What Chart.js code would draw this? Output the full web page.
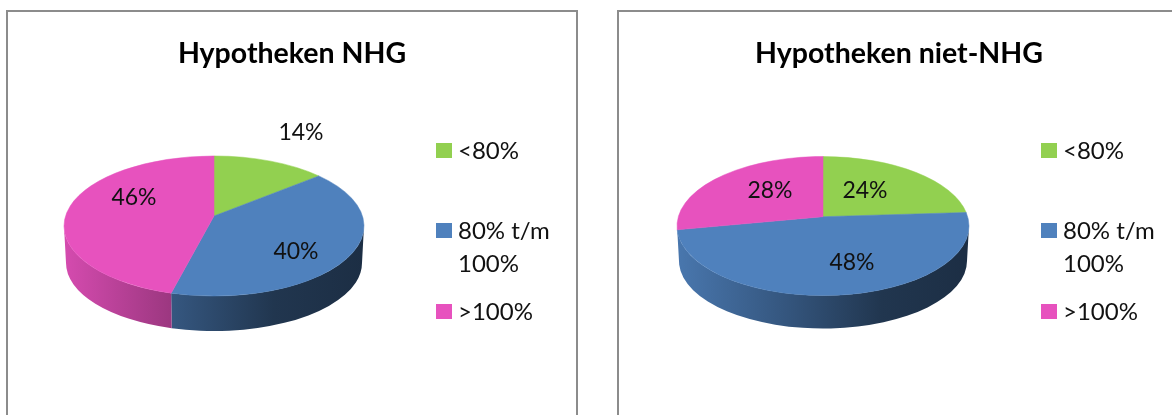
<!DOCTYPE html>
<html>
<head>
<meta charset="utf-8">
<script src="https://cdn.jsdelivr.net/npm/chart.js@4"></script>
<style>
  html, body { margin: 0; padding: 0; background: #fff; overflow: hidden; width: 1172px; height: 415px; }
  .frame { position: absolute; top: 10px; height: 430px; border: 2px solid #8c8c8c; box-sizing: border-box; }
  canvas { position: absolute; top: 12px; }
  .key { position: absolute; font: 24px Lato, sans-serif; color: #111; line-height: 26px; white-space: nowrap; }
  .swatch { position: absolute; width: 16px; height: 15px; }
</style>
</head>
<body>
<div class="frame" style="left:6px;width:572px"></div>
<div class="frame" style="left:617px;width:600px"></div>
<canvas id="pieNhg" width="568" height="403" style="left:8px"></canvas>
<canvas id="pieNiet" width="560" height="403" style="left:619px"></canvas>
<script>
const categories = ["<80%", "80% t/m 100%", ">100%"];
const colors = ["#92D050", "#4F81BD", "#E752BE"];
const nhgValues = [14, 40, 46];
const nietValues = [24, 48, 28];

// where the percentages sit, relative to the canvas (excel best-fit, picked by eye)
const nhgSpots = [[293, 121], [288, 240], [126, 186]];
const nietSpots = [[246, 179], [233, 251], [151, 179]];

// legend rows: page y of the text lines
const legendLines = [["<80%", 150], ["80% t/m", 230], ["100%", 263], [">100%", 311]];
const legendSwatches = [[0, 143], [1, 223], [2, 304]];

function shade(hex, k) {
  const n = parseInt(hex.slice(1), 16);
  const c = [n >> 16, (n >> 8) & 255, n & 255].map((v) => Math.round(v * k));
  return `rgb(${c[0]},${c[1]},${c[2]})`;
}

// perspective: moves the apex up inside the ellipse, the rim stays on the ellipse
function tiltAngle(a, b) {
  const x = Math.cos(a);
  const y = Math.sin(a);
  const w = 1 + b * y;
  return Math.atan2((y + b) / w, (x * Math.sqrt(1 - b * b)) / w);
}

const pie3d = {
  id: "pie3d",
  afterLayout(chart) {
    chart.titleBlock.left = 0;
    chart.titleBlock.right = chart.width;
  },
  beforeDatasetsDraw(chart, args, opts) {
    const { ctx } = chart;
    const arcs = chart.getDatasetMeta(0).data;
    const cx = arcs[0].x;
    const cy = arcs[0].y;
    const rx = arcs[0].outerRadius;
    const ry = rx * opts.flatten;
    const apexY = cy - opts.apexShift * ry;
    const lowRx = rx - 2;
    const lowRy = ry - 2;
    const lowY = cy + opts.depth + 2;

    const spans = arcs.map((arc) => {
      let a1 = tiltAngle(arc.startAngle, -opts.apexShift);
      let a2 = tiltAngle(arc.endAngle, -opts.apexShift);
      if (a1 < 0) a1 += Math.PI * 2;
      while (a2 < a1) a2 += Math.PI * 2;
      return [a1, a2];
    });

    // side wall, front half only
    arcs.forEach((arc, i) => {
      const base = arc.options.backgroundColor;
      const grad = ctx.createLinearGradient(cx - rx, 0, cx + rx, 0);
      grad.addColorStop(0, shade(base, 0.92));
      grad.addColorStop(0.38, shade(base, 0.66));
      grad.addColorStop(0.7, shade(base, 0.42));
      grad.addColorStop(1, shade(base, 0.36));
      [0, Math.PI * 2].forEach((off) => {
        const from = Math.max(spans[i][0], off);
        const to = Math.min(spans[i][1], off + Math.PI);
        if (to <= from) return;
        ctx.beginPath();
        ctx.ellipse(cx, cy, rx, ry, 0, from, to);
        ctx.ellipse(cx, lowY, lowRx, lowRy, 0, to, from, true);
        ctx.closePath();
        ctx.fillStyle = grad;
        ctx.fill();
      });
    });

    // top face
    arcs.forEach((arc, i) => {
      ctx.beginPath();
      ctx.moveTo(cx, apexY);
      ctx.ellipse(cx, cy, rx, ry, 0, spans[i][0], spans[i][1]);
      ctx.closePath();
      ctx.fillStyle = arc.options.backgroundColor;
      ctx.strokeStyle = arc.options.backgroundColor;
      ctx.lineWidth = 0.5;
      ctx.fill();
      ctx.stroke();
    });

    ctx.font = "23px Lato, sans-serif";
    ctx.fillStyle = "#111";
    ctx.textAlign = "center";
    ctx.textBaseline = "middle";
    chart.data.datasets[0].data.forEach((v, i) => {
      ctx.fillText(v + "%", opts.spots[i][0], opts.spots[i][1]);
    });
    return false;
  },
};

function makePie(canvasId, title, values, spots, pad, look) {
  return new Chart(document.getElementById(canvasId), {
    type: "pie",
    data: {
      labels: categories,
      datasets: [{ data: values, backgroundColor: colors, borderWidth: 0 }],
    },
    options: {
      responsive: false,
      animation: false,
      layout: { padding: pad },
      plugins: {
        legend: { display: false },
        tooltip: { enabled: false },
        title: {
          display: true,
          text: title,
          color: "#000",
          font: { family: "Lato, sans-serif", size: 28.5, weight: "bold", lineHeight: 1.2 },
          padding: { top: 25, bottom: look.titleGap },
        },
        pie3d: { spots, flatten: look.flatten, apexShift: look.apexShift, depth: look.depth },
      },
    },
    plugins: [pie3d],
  });
}

function makeLegend(left) {
  legendSwatches.forEach(([c, y]) => {
    const s = document.createElement("div");
    s.className = "swatch";
    s.style.left = left + "px";
    s.style.top = y + "px";
    s.style.background = colors[c];
    document.body.appendChild(s);
  });
  legendLines.forEach(([text, y]) => {
    const k = document.createElement("div");
    k.className = "key";
    k.textContent = text;
    k.style.left = left + 22 + "px";
    k.style.top = y - 13 + "px";
    document.body.appendChild(k);
  });
}

makePie("pieNhg", "Hypotheken NHG", nhgValues, nhgSpots,
  { left: 56, right: 212, top: 0, bottom: 39 },
  { titleGap: 4.8, flatten: 0.467, apexShift: 0.143, depth: 35 });
makePie("pieNiet", "Hypotheken niet-NHG", nietValues, nietSpots,
  { left: 58, right: 210, top: 0, bottom: 43 },
  { titleGap: 8.8, flatten: 0.476, apexShift: 0.134, depth: 33 });

makeLegend(436);
makeLegend(1041);
</script>
</body>
</html>
